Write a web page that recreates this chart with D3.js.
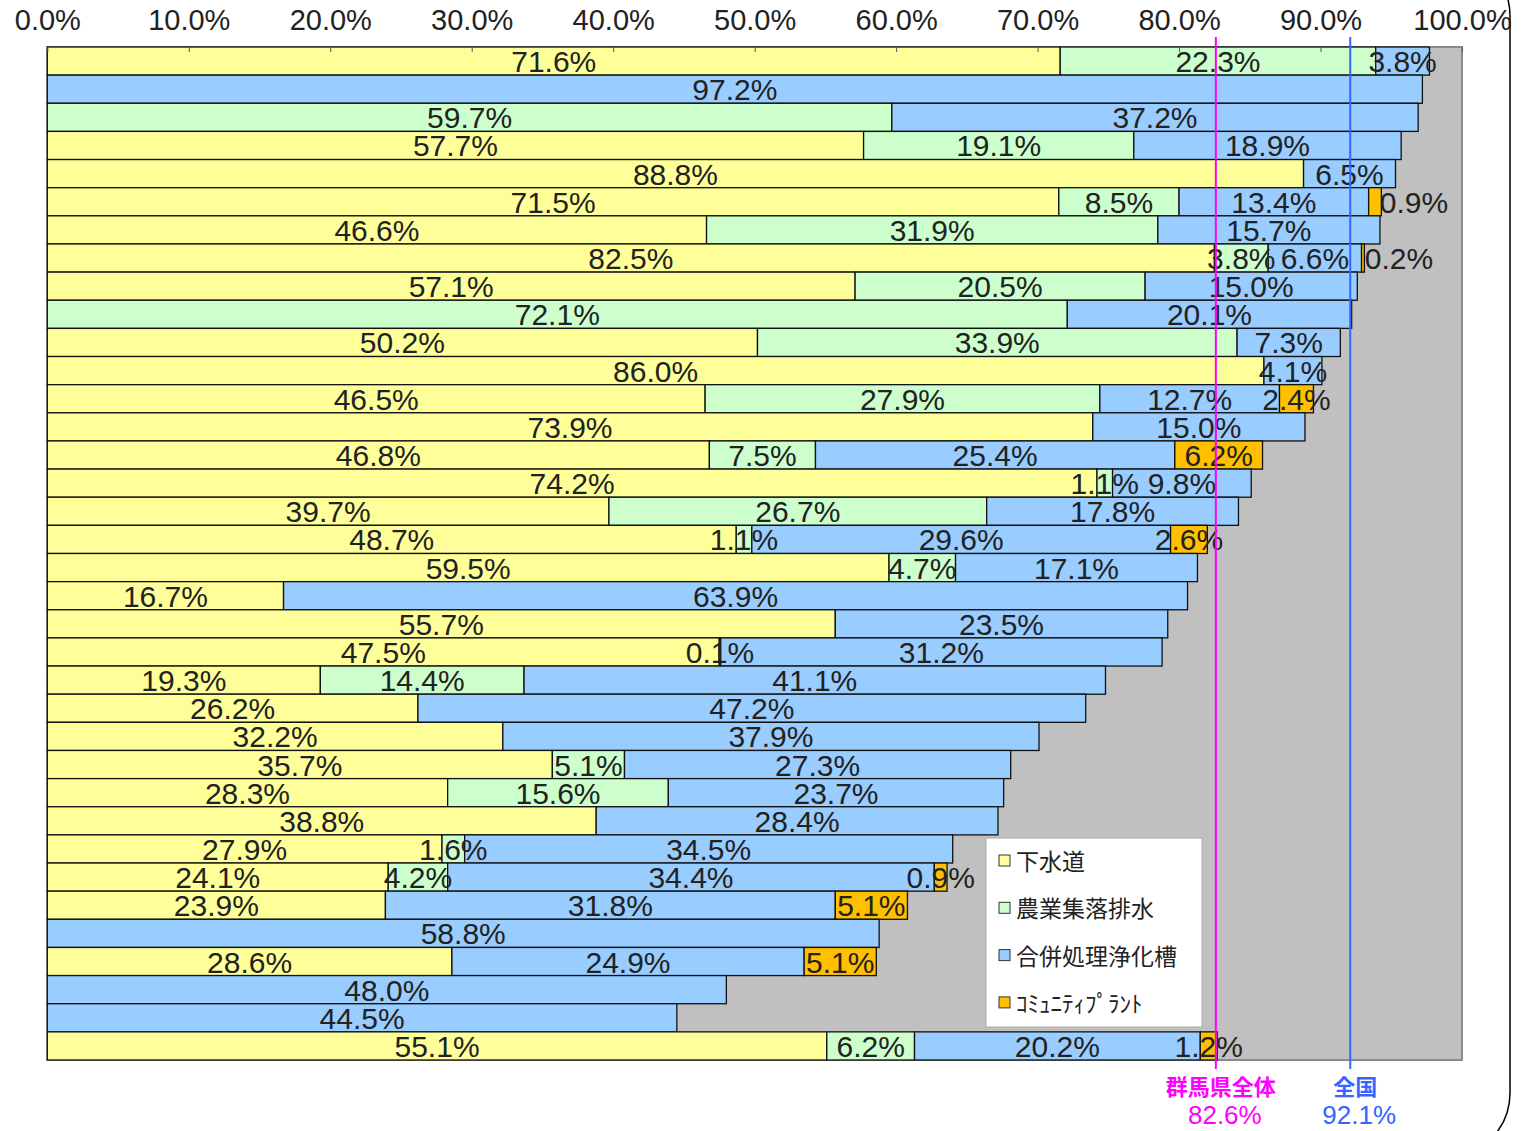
<!DOCTYPE html>
<html lang="ja">
<head>
<meta charset="utf-8">
<script src="https://d3js.org/d3.v7.min.js"></script>
<style>
  body { margin: 0; background: #fff; }
  svg text { font-family: "Liberation Sans", Arial, sans-serif; }
  .jp { font-family: "Noto Sans CJK JP", sans-serif; }
</style>
</head>
<body>
<script>
// rows, top to bottom (names are not shown in the picture)
let rows = d3.range(1, 37);

let seriesNames = ["下水道", "農業集落排水", "合併処理浄化槽", "ｺﾐｭﾆﾃｨﾌﾟﾗﾝﾄ"];
let seriesColors = ["#FFFF99", "#CCFFCC", "#99CCFF", "#FFC000"];

let gesuido = [71.6, 0, 0, 57.7, 88.8, 71.5, 46.6, 82.5, 57.1, 0, 50.2, 86.0, 46.5, 73.9, 46.8, 74.2, 39.7, 48.7,
               59.5, 16.7, 55.7, 47.5, 19.3, 26.2, 32.2, 35.7, 28.3, 38.8, 27.9, 24.1, 23.9, 0, 28.6, 0, 0, 55.1];
let nogyo   = [22.3, 0, 59.7, 19.1, 0, 8.5, 31.9, 3.8, 20.5, 72.1, 33.9, 0, 27.9, 0, 7.5, 1.1, 26.7, 1.1,
               4.7, 0, 0, 0.1, 14.4, 0, 0, 5.1, 15.6, 0, 1.6, 4.2, 0, 0, 0, 0, 0, 6.2];
let gappei  = [3.8, 97.2, 37.2, 18.9, 6.5, 13.4, 15.7, 6.6, 15.0, 20.1, 7.3, 4.1, 12.7, 15.0, 25.4, 9.8, 17.8, 29.6,
               17.1, 63.9, 23.5, 31.2, 41.1, 47.2, 37.9, 27.3, 23.7, 28.4, 34.5, 34.4, 31.8, 58.8, 24.9, 48.0, 44.5, 20.2];
let community = [0, 0, 0, 0, 0, 0.9, 0, 0.2, 0, 0, 0, 0, 2.4, 0, 6.2, 0, 0, 2.6,
                 0, 0, 0, 0, 0, 0, 0, 0, 0, 0, 0, 0.9, 5.1, 0, 5.1, 0, 0, 1.2];

let xTicks = [0, 10, 20, 30, 40, 50, 60, 70, 80, 90, 100];

let refNames = ["群馬県全体", "全国"];
let refValues = [82.6, 92.1];
let refColors = ["#FF00FF", "#3366FF"];

let w = 1537;
let h = 1131;

// a couple of tiny labels were pushed right of their bar in the original
let labelShift = {6: 39, 8: 36};

let svg = d3.select("body").append("svg")
            .attr("width", w)
            .attr("height", h);

let x = d3.scaleLinear().domain([0, 100]).range([47.3, 1462]);
let y = d3.scaleBand().domain(rows).range([47, 1060]).padding(0);

// outer frame (only right side visible)
svg.append("rect")
   .attr("x", -30).attr("y", -49)
   .attr("width", 1540).attr("height", 1207)
   .attr("rx", 65).attr("ry", 65)
   .attr("fill", "none")
   .attr("stroke", "#000")
   .attr("stroke-width", 1.5);

// plot area
svg.append("rect")
   .attr("x", x(0)).attr("y", y.range()[0])
   .attr("width", x(100) - x(0)).attr("height", y.range()[1] - y.range()[0])
   .attr("fill", "#C0C0C0")
   .attr("stroke", "#8a8a8a")
   .attr("stroke-width", 2);

let table = rows.map(function(r, i) {
    return [gesuido[i], nogyo[i], gappei[i], community[i]];
});

let segs = [];
table.forEach(function(vals, i) {
    let start = 0;
    vals.forEach(function(v, k) {
        if (v > 0) segs.push({row: rows[i], k: k, x0: start, v: v});
        start += v;
    });
});

svg.append("g").selectAll("rect")
   .data(segs)
   .join("rect")
     .attr("x", function(d) { return x(d.x0); })
     .attr("y", function(d) { return y(d.row); })
     .attr("width", function(d) { return x(d.x0 + d.v) - x(d.x0); })
     .attr("height", y.bandwidth())
     .attr("fill", function(d) { return seriesColors[d.k]; })
     .attr("stroke", "#111")
     .attr("stroke-width", 1.3);

// top axis
let axis = svg.append("g")
   .attr("transform", "translate(0," + y.range()[0] + ")")
   .call(d3.axisTop(x).tickValues(xTicks).tickSize(-5).tickPadding(17)
           .tickFormat(function(d) { return d.toFixed(1) + "%"; }));
axis.select(".domain").remove();
axis.selectAll("line").attr("stroke", "#555");
axis.selectAll("text")
    .attr("font-size", 29)
    .attr("fill", "#222")
    .attr("font-family", "Liberation Sans, Arial, sans-serif");

// value labels
svg.append("g").selectAll("text")
   .data(segs)
   .join("text")
     .text(function(d) { return d.v.toFixed(1) + "%"; })
     .attr("x", function(d) {
         let dx = (d.k === 3 && labelShift[d.row]) ? labelShift[d.row] : 0;
         return x(d.x0 + d.v / 2) + dx;
     })
     .attr("y", function(d) { return y(d.row) + y.bandwidth() / 2 + 11; })
     .attr("text-anchor", "middle")
     .attr("font-size", 30)
     .attr("fill", "#222");

// legend
let lg = svg.append("g").attr("transform", "translate(986,838)");
lg.append("rect")
  .attr("width", 216).attr("height", 189)
  .attr("fill", "#fff")
  .attr("stroke", "#aaa");
let items = lg.selectAll("g.item")
  .data(seriesNames)
  .join("g")
    .attr("class", "item")
    .attr("transform", function(d, i) { return "translate(0," + (23 + i * 47.3) + ")"; });
items.append("rect")
  .attr("x", 13).attr("y", -6)
  .attr("width", 11).attr("height", 11)
  .attr("fill", function(d, i) { return seriesColors[i]; })
  .attr("stroke", "#333");
items.append("text")
  .attr("class", "jp")
  .attr("x", 30).attr("y", 9)
  .attr("font-size", 23)
  .attr("fill", "#222")
  .text(function(d) { return d; });

// reference lines
let refs = svg.append("g").selectAll("g")
  .data(refValues)
  .join("g");
refs.append("line")
  .attr("x1", function(d) { return x(d); })
  .attr("x2", function(d) { return x(d); })
  .attr("y1", 37).attr("y2", 1069)
  .attr("stroke", function(d, i) { return refColors[i]; })
  .attr("stroke-width", 2);
refs.append("text")
  .attr("class", "jp")
  .attr("x", function(d) { return x(d) + 5; })
  .attr("y", 1095)
  .attr("text-anchor", "middle")
  .attr("font-size", 22)
  .attr("font-weight", "bold")
  .attr("fill", function(d, i) { return refColors[i]; })
  .text(function(d, i) { return refNames[i]; });
refs.append("text")
  .attr("x", function(d) { return x(d) + 9; })
  .attr("y", 1124)
  .attr("text-anchor", "middle")
  .attr("font-size", 26)
  .attr("fill", function(d, i) { return refColors[i]; })
  .text(function(d) { return d.toFixed(1) + "%"; });
</script>
</body>
</html>
